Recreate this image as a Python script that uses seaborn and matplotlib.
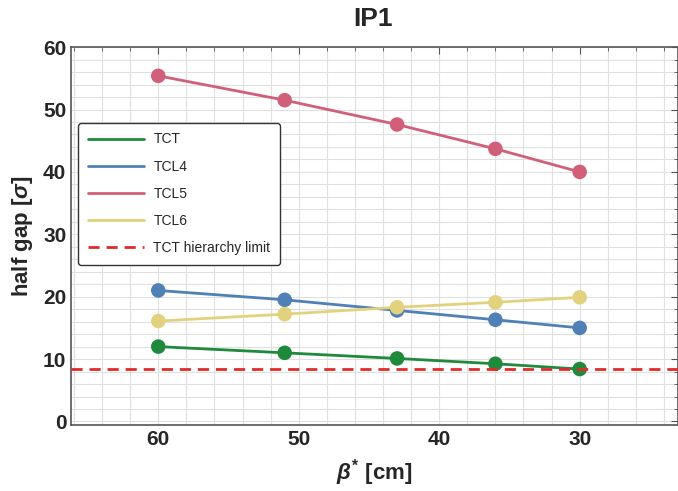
import numpy as np
import pandas as pd
import matplotlib
matplotlib.use("Agg")
import matplotlib.pyplot as plt
from matplotlib.ticker import MultipleLocator
from matplotlib.lines import Line2D
import seaborn as sns

# data
beta_star = [60, 51, 43, 36, 30]
tct = [12.0, 11.0, 10.1, 9.25, 8.4]
tcl4 = [21.0, 19.5, 17.8, 16.3, 15.0]
tcl5 = [55.4, 51.5, 47.6, 43.7, 40.0]
tcl6 = [16.1, 17.2, 18.3, 19.1, 19.9]
tct_limit = 8.4

series = {"TCT": tct, "TCL4": tcl4, "TCL5": tcl5, "TCL6": tcl6}
colors = {"TCT": "#1f8a3b", "TCL4": "#4f80b6", "TCL5": "#d25f79", "TCL6": "#e2d27e"}

df = pd.DataFrame([(b, name, v) for name, vals in series.items()
                   for b, v in zip(beta_star, vals)],
                  columns=["beta", "collimator", "gap"])

sns.set_style("white")
plt.rcParams["font.family"] = ["Liberation Sans", "DejaVu Sans"]
plt.rcParams["mathtext.fontset"] = "custom"
plt.rcParams["mathtext.it"] = "Liberation Sans:italic:bold"
plt.rcParams["mathtext.rm"] = "Liberation Sans:bold"

fig = plt.figure(figsize=(6.78, 4.91), dpi=100)
ax = fig.add_axes([0.105, 0.134, 0.895, 0.77])

sns.lineplot(data=df, x="beta", y="gap", hue="collimator", palette=colors,
             linewidth=2, ax=ax, legend=False)
sns.scatterplot(data=df, x="beta", y="gap", hue="collimator", palette=colors,
                s=110, edgecolor="none", ax=ax, legend=False, zorder=3)
ax.axhline(tct_limit, color="#e02b2b", linestyle=(0, (4, 2.5)), linewidth=2, zorder=4)

ax.set_xlim(66.2, 23)
ax.set_ylim(-0.6, 60)
ax.xaxis.set_major_locator(MultipleLocator(10))
ax.xaxis.set_minor_locator(MultipleLocator(2))
ax.yaxis.set_major_locator(MultipleLocator(10))
ax.yaxis.set_minor_locator(MultipleLocator(2))
ax.grid(True, which="both", color="#e0e0e0", linewidth=0.8)
ax.set_axisbelow(True)
ax.tick_params(which="both", direction="in", top=True, right=True, color="#555555")
ax.tick_params(which="major", length=5, labelsize=15)
ax.tick_params(which="minor", length=3)
for lab in ax.get_xticklabels() + ax.get_yticklabels():
    lab.set_fontweight("bold")
for sp in ax.spines.values():
    sp.set_color("#555555")
    sp.set_linewidth(1.2)

ax.set_xlabel(r"$\beta^{*}$ [cm]", fontsize=16, fontweight="bold", labelpad=6)
ax.set_ylabel(r"half gap [$\sigma$]", fontsize=16, fontweight="bold", labelpad=6)
fig.suptitle("IP1", fontsize=19, fontweight="bold", x=0.55, y=0.985)

handles = [Line2D([], [], color=colors[n], linewidth=2) for n in series]
handles.append(Line2D([], [], color="#e02b2b", linestyle=(0, (4, 2.5)), linewidth=2))
leg = ax.legend(handles, list(series) + ["TCT hierarchy limit"], loc="upper left",
                bbox_to_anchor=(0.012, 0.80), borderaxespad=0, fontsize=10,
                frameon=True, fancybox=True, edgecolor="#333333",
                labelspacing=0.95, handlelength=4.0, handletextpad=0.7,
                borderpad=0.7)
leg.get_frame().set_linewidth(1.0)
leg.get_frame().set_alpha(1)

fig.savefig("out.png", dpi=100)
